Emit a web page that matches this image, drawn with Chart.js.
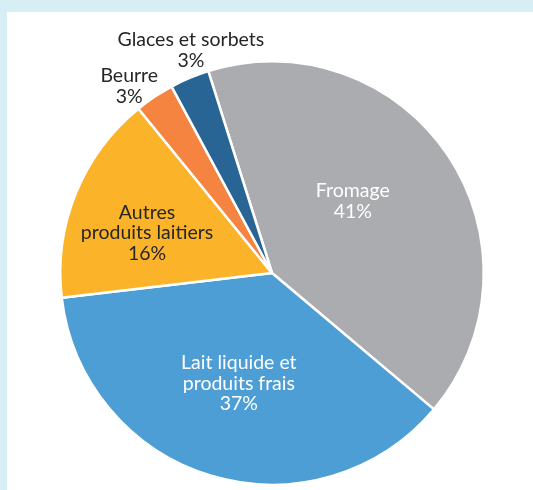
<!DOCTYPE html>
<html>
<head>
<meta charset="utf-8">
<script src="https://cdn.jsdelivr.net/npm/chart.js@4"></script>
<style>
  html, body { margin: 0; padding: 0; background: #d8eef5; width: 533px; height: 490px; overflow: hidden; }
  #panel { position: absolute; left: 7px; top: 12px; width: 526px; height: 478px; background: #ffffff; }
  canvas { display: block; }
</style>
</head>
<body>
<div id="panel"><canvas id="c" width="526" height="478"></canvas></div>
<script>
const categories = ["Fromage", "Lait liquide et produits frais", "Autres produits laitiers", "Beurre", "Glaces et sorbets"];
const labelLines = [["Fromage"], ["Lait liquide et", "produits frais"], ["Autres", "produits laitiers"], ["Beurre"], ["Glaces et sorbets"]];
const shares = [41, 37, 16, 3, 3];
const colors = ["#abacaf", "#4e9ed6", "#fbb42a", "#f4843f", "#286594"];
const textColors = ["#ffffff", "#ffffff", "#262626", "#262626", "#262626"];
// label placement: radius factor and angular shift (degrees) relative to slice middle
const labelRadius = [0.51, 0.545, 0.62, 1.11, 1.12];
const labelShift = [-7.9, 0, -4.3, -3.7, 2.9];

const labelPlugin = {
  id: 'sliceLabels',
  afterDatasetsDraw(chart) {
    const ctx = chart.ctx;
    const meta = chart.getDatasetMeta(0);
    ctx.save();
    ctx.font = '19.5px Lato, "Open Sans", sans-serif';
    ctx.textAlign = 'center';
    ctx.textBaseline = 'middle';
    const lh = 20.5;
    meta.data.forEach((arc, i) => {
      const p = arc.getProps(['x', 'y', 'startAngle', 'endAngle', 'outerRadius'], true);
      const mid = (p.startAngle + p.endAngle) / 2 + labelShift[i] * Math.PI / 180;
      const r = p.outerRadius * labelRadius[i];
      const cx = p.x + Math.cos(mid) * r;
      const cy = p.y + Math.sin(mid) * r;
      const lines = labelLines[i].concat([shares[i] + '%']);
      const y0 = cy - (lines.length - 1) * lh / 2;
      ctx.fillStyle = textColors[i];
      lines.forEach((t, k) => ctx.fillText(t, cx, y0 + k * lh));
    });
    ctx.restore();
  }
};

new Chart(document.getElementById('c'), {
  type: 'pie',
  data: {
    labels: categories,
    datasets: [{
      data: shares,
      backgroundColor: colors,
      borderColor: '#ffffff',
      borderWidth: 2.5,
      hoverOffset: 0
    }]
  },
  options: {
    responsive: false,
    animation: false,
    rotation: -17.5,
    layout: { padding: { top: 48, bottom: 4, left: 52, right: 48 } },
    plugins: {
      legend: { display: false },
      tooltip: { enabled: false }
    }
  },
  plugins: [labelPlugin]
});
</script>
</body>
</html>
